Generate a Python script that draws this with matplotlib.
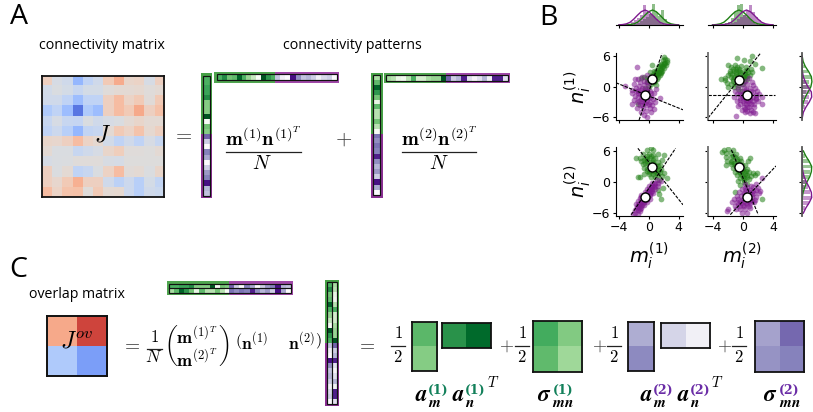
import matplotlib
matplotlib.use('Agg')
import matplotlib.pyplot as plt
from matplotlib.patches import Rectangle

W, H = 813, 412
plt.rcParams['font.family'] = ['Open Sans', 'DejaVu Sans']
plt.rcParams['mathtext.fontset'] = 'cm'

# ---------- data ----------
J_values = [
 [.15,-.05,-.1,-.45,-.2,-.1,.2,.4,.1,.12,-.05,.15],
 [-.08,-.03,-.07,-.15,-.07,-.07,.02,.05,.05,.07,.02,.05],
 [-.1,-.1,-.2,-.4,-.2,-.2,.15,.3,.12,.2,.03,.2],
 [-.3,-.2,-.4,-.8,-.3,-.4,.15,.3,.2,.42,.15,.27],
 [-.15,-.05,-.15,-.17,-.03,-.1,-.05,-.03,.05,.1,.05,.05],
 [-.2,-.12,-.25,-.45,-.18,-.15,.05,.2,.12,.25,.07,.15],
 [.1,.08,.15,.3,.12,.07,-.08,-.2,-.1,-.2,-.05,-.15],
 [.05,-.03,-.03,-.15,-.1,-.05,.1,.17,.02,.02,0,.05],
 [-.05,-.03,-.02,.02,.02,.02,-.04,-.06,0,0,0,0],
 [.15,-.02,.05,-.2,-.15,-.03,.13,.3,.03,.05,-.02,.1],
 [.15,.08,.2,.38,.15,.15,-.1,-.22,-.12,-.25,-.07,-.18],
 [.3,.12,.25,.27,.02,.2,.05,.07,-.12,-.25,-.1,-.13]]
J_overlap = [[.42, .85], [-.3, -.6]]

m1_g = [.6,.6,.65,.65,.75,.45,.45,.45,.95,.0,.5,.45]
m1_p = [.7,.3,.0,.6,.45,.0,.3,.5,.6,.95,.4,.35]
n1_g = [.6,.75,.5,.55,.9,.6,.4,.25,.0,.95,.7,.6]
n1_p = [.35,.1,.0,.95,.55,.35,.4,.3,.1,.25,.3,.0]
m2_g = [.35,.55,.9,.7,.5,.1,.55,.3,.3,.5,.3,.0]
m2_p = [.65,.55,.65,.6,.9,.55,.4,.5,.3,.95,.45,.0]
n2_g = [.35,.3,.1,.05,.3,.6,.2,.2,.35,.4,.4,.95]
n2_p = [.7,.3,.4,.9,.2,.05,.2,.4,.1,.9,.9,.2]

a1_m = [[.56], [.45]]
a1_n = [[.72, .88]]
sigma1 = [[.62, .46], [.55, .38]]
a2_m = [[.43], [.57]]
a2_n = [[.27, .1]]
sigma2 = [[.47, .68], [.53, .6]]

p1_green = [(2.0,5.8),(2.2,5.5),(1.9,5.2),(2.5,5.3),(2.4,4.9),(2.0,4.7),(1.7,4.5),(1.9,4.1),(2.3,4.2),(1.5,4.0),
 (1.3,3.8),(1.6,3.5),(1.1,3.4),(.4,4.3),(1.4,3.0),(1.0,3.0),(1.8,3.2),(.8,2.6),(1.2,2.5),(.5,2.3),(1.5,2.4),(.2,2.9),
 (.9,2.0),(.3,2.0),(.6,1.7),(1.1,1.5),(-.2,1.8),(-.6,1.9),(-1.0,1.8),(.2,1.2),(.7,1.0),(-.2,.9),(.3,.5),(1.0,.4),
 (0,0),(-.5,-.2),(-1.5,-3.4),(1.6,2.8),(1.3,2.0),(.7,3.2),(-.1,1.4),(2.1,3.7),(.9,1.2),(.5,.9),
 (1.8,3.8),(1.5,3.3),(1.2,2.9),(1.0,2.3),(.7,2.1),(1.4,2.7),(1.7,3.0),(.9,2.9),(.4,1.5),(.8,1.6),(2.0,4.4),(2.2,4.6),(1.6,4.2),(1.1,2.7)]
p1_purple = [(-1.6,3.9),(-.3,2.3),(-.9,2.0),(-1.4,1.6),(-1.9,1.5),(-.7,1.2),(-1.2,.9),(-.2,.9),(-2.0,.6),(-.7,.4),
 (-1.3,.2),(-.1,.3),(-3.2,.1),(-1.7,-.2),(-.9,-.3),(-.3,-.4),(-2.3,-.6),(-1.4,-.8),(-.7,-1.0),(.1,-.8),(-2.2,-1.2),
 (-1.2,-1.4),(-.1,-1.5),(.7,-1.2),(1.0,-.5),(-1.8,-1.8),(-.8,-1.9),(.3,-1.9),(-2.0,-2.5),(-1.1,-2.4),(-.3,-2.5),
 (.6,-2.3),(1.5,-2.1),(-1.6,-3.0),(-.7,-3.0),(.2,-3.0),(.9,-3.0),(-1.2,-3.6),(-.3,-3.6),(.5,-3.6),(-.8,-4.2),(.1,-4.2),
 (.7,-4.3),(-.4,-4.7),(.3,-4.9),(-1.1,-5.0),(-.6,-5.5),(-.3,-5.9),(-1.6,-4.2),(-2.2,-3.3),
 (-1.0,-.7),(-.5,-.6),(-1.5,-1.2),(-.9,-1.3),(-.4,-1.2),(.3,-1.2),(-1.4,-2.0),(-.5,-2.0),(-.9,-2.7),(-.1,-2.1),(-.5,-3.1),(-.9,-3.5),(.0,-3.4),(-1.3,-2.8),(-.2,-.9),(-1.7,-.9)]
p2_green = [(-.75,5.7),(1.25,6.1),(.1,5.2),(.9,5),(1.6,4.5),(2.5,3.7),(-1.9,4.2),(-1,4.3),(-2.9,1.5),(-2.4,1.3),(-2.1,.8),
 (-1.9,0),(-1.5,3.8),(-.7,3.9),(-.2,4.1),(.4,3.8),(1.1,3.6),(-1.7,3.2),(-1.1,3.2),(-.5,3.2),(.1,3.1),(.7,3.0),(1.2,2.9),
 (-1.4,2.6),(-.9,2.5),(-.3,2.6),(.3,2.4),(.9,2.3),(-2.0,2.3),(-1.6,1.9),(-1.1,1.9),(-.6,1.9),(0,1.8),(.5,1.6),(-2.3,1.8),
 (-1.3,1.2),(-.8,1.1),(-.3,1.2),(.2,1.1),(-1.6,.6),(-1.0,.5),(-.5,.4),(0,.6),(-1.2,-.1),(-.6,-.5),(-.1,-.9),
 (-1.3,3.5),(-.9,2.9),(-.4,2.9),(.3,2.8),(.6,3.4),(-.9,3.6),(.0,2.2),(-.7,2.2),(.6,2.1),(-1.3,1.6),(-.2,1.6),(.3,1.9),(-.5,3.6),(-1.7,2.7)]
p2_purple = [(-.9,-5.8),(.6,-4.8),(1.6,-5.2),(2.5,-2),(2.5,-3.4),(.8,1.7),(.3,1.2),(1.2,1.0),(-.1,.5),(.6,.5),(1.3,.4),
 (-.6,-.1),(.1,-.2),(.9,-.2),(1.6,-.3),(-1.0,-.8),(-.3,-.8),(.4,-.9),(1.1,-.9),(1.9,-.8),(-.8,-1.4),(-.1,-1.5),(1.0,-1.6),
 (1.7,-1.5),(2.2,-1.4),(-1.1,-2.0),(-.4,-2.1),(.3,-2.2),(1.0,-2.2),(1.8,-2.2),(-.7,-2.7),(0,-2.7),(.7,-2.8),(1.4,-2.8),
 (2.0,-2.8),(-.3,-3.3),(.4,-3.4),(1.1,-3.4),(-.6,-3.8),(.1,-3.9),(.8,-4.0),(1.5,-3.9),(-.1,-4.5),(.3,-4.4),(1.1,-4.6),
 (.9,-5.2),(.3,-5.0),(1.3,-4.9),
 (.4,-.4),(.7,-1.2),(.2,-1.2),(1.4,-1.1),(-.4,-1.4),(.6,-1.8),(1.3,-1.9),(.0,-2.0),(.4,-2.6),(1.0,-2.6),(.8,-3.2),(1.5,-3.3),(.1,-3.1),(.5,-3.9),(-.3,-2.5),(1.7,-2.4)]
p3_green = [(-1.15,.9),(-1.45,1),(1.2,5.5),(2,5.3),(-1.7,4.6),(2.4,.7),(1.9,-1.1),(1.2,-1.6),(1.4,-2.3),(1.6,-3.3),(.3,6.5),
 (-.3,6.2),(.6,6.1),(-.8,5.4),(.0,5.5),(.6,5.3),(-1.2,4.7),(-.5,4.7),(.2,4.6),(.9,4.6),(-1.0,4.0),(-.3,4.0),(.4,3.9),(1.2,3.9),
 (1.8,4.3),(-.8,3.4),(-.1,3.4),(.9,3.3),(1.5,3.2),(-.6,2.8),(1.0,2.7),(1.7,2.5),(-.3,2.2),(.3,2.2),(.9,2.1),(1.5,1.9),(2.1,1.7),
 (-.6,1.6),(.0,1.5),(.6,1.5),(1.2,1.4),(1.8,1.1),(.3,.9),(.9,.9),(1.4,.4),(1.1,1.8),(.2,2.7),
 (-.3,5.0),(.3,5.0),(-.7,4.3),(.6,4.3),(-.5,3.6),(.2,3.3),(1.2,3.0),(-.2,2.6),(.6,2.5),(.0,1.9),(.7,1.9),(1.4,2.3),(-.2,4.4),(.6,3.6)]
p3_purple = [(-2.1,-6.1),(-1.8,-5.9),(-1.5,-6.1),(-1.9,-5.4),(-1.5,-5.4),(-1.2,-5.6),(-1.6,-4.8),(-1.3,-4.9),(-1.0,-5.0),(-1.7,-4.2),
 (-1.3,-4.3),(-.9,-4.4),(-.6,-4.5),(-1.4,-3.7),(-1.0,-3.7),(-.6,-3.8),(-.3,-3.9),(-1.2,-3.1),(-.8,-3.1),(-.2,-3.2),(.1,-3.3),
 (-1.0,-2.5),(-.6,-2.5),(-.2,-2.5),(.2,-2.6),(-.5,-1.9),(-.1,-1.9),(.3,-2.0),(.6,-2.1),(-.3,-1.3),(.1,-1.3),(.5,-1.3),(.9,-1.4),
 (.0,-.7),(.4,-.7),(.8,-.7),(1.2,-.8),(.5,-.2),(.9,-.1),(1.3,-.1),(1.6,.2),(1.1,.3),
 (-1.6,-5.1),(-1.2,-5.2),(-1.5,-4.5),(-1.1,-4.6),(-.8,-4.0),(-1.2,-4.0),(-.4,-3.5),(-.8,-3.5),(-1.0,-2.9),(-.4,-2.8),(-.1,-2.8),(-.3,-2.2),(.1,-2.3),(.4,-1.7),(.0,-1.6),(.7,-1.0),(.3,-1.0),(.7,-.4)]
p4_green = [(-2.5,6.2),(-1.9,6.3),(-1.3,6.2),(-2.8,5.7),(-2.2,5.6),(-1.6,5.6),(-.9,5.5),(1,4.6),(.7,4),(-2.2,4.8),(-1.6,4.9),(-1.0,4.8),
 (-.4,4.7),(-2.1,4.1),(-1.4,4.1),(-.8,4.0),(-.2,4.0),(-2.2,3.3),(-1.6,3.4),(-1.0,3.3),(-.1,3.3),(.3,3.2),(-1.3,2.7),(-.8,2.6),(.0,2.6),
 (.5,2.5),(-1.0,2.0),(-.4,2.0),(.2,1.9),(.8,2.0),(1.3,1.7),(1.9,1.8),(-.7,1.4),(-.1,1.3),(.5,1.3),(1.1,1.2),(1.6,1.3),(-.4,.7),(.2,.7),
 (.8,.6),(-.6,.1),(.1,.0),(.6,-.3),(-1,-1.9),(2.5,-3.3),(-.3,-.6),
 (-1.3,5.1),(-.8,4.5),(-1.2,3.7),(-.5,3.6),(-.9,3.0),(-.3,2.9),(-.6,2.3),(-.1,2.3),(.4,2.2),(-.3,1.7),(.3,1.5),(.0,1.0),(.5,.9),(-1.6,3.9),(.2,.3)]
p4_purple = [(-2.1,-5.5),(-1.9,-5.3),(2.5,.8),(1.7,-.4),(1.1,-.7),(.3,-.3),(.6,-1.0),(1.4,-1.0),(2.0,-1.1),(-.1,-1.3),(.4,-1.5),(1.0,-1.5),(1.7,-1.6),
 (2.3,-1.7),(-.5,-1.9),(.1,-2.1),(.9,-2.1),(1.5,-2.2),(2.1,-2.2),(-.8,-2.7),(-.2,-2.7),(1.2,-2.8),(1.8,-2.8),(-1.2,-3.2),(-.6,-3.3),(.0,-3.3),
 (1.0,-3.4),(1.6,-3.4),(-1.4,-3.9),(-.8,-3.9),(-.2,-4.0),(.4,-4.0),(1.0,-4.0),(1.5,-3.9),(-1.0,-4.6),(-.4,-4.6),(.2,-4.6),(.8,-4.7),(-.9,-5.2),
 (-.3,-5.3),(.3,-5.3),(1.0,-5.1),(-.1,-5.9),(.5,-5.9),
 (.2,-2.4),(.7,-2.5),(1.2,-2.4),(.3,-3.0),(.9,-3.0),(-.3,-3.6),(.2,-3.6),(.7,-3.7),(1.2,-3.6),(-.6,-4.2),(.0,-4.4),(.6,-4.3),(.7,-1.8),(1.3,-1.8),(.3,-1.1)]

p1_green_center, p1_purple_center = (.5, 1.5), (-.45, -1.5)
p2_green_center, p2_purple_center = (-.55, 1.4), (.5, -1.5)
p3_green_center, p3_purple_center = (.45, 2.95), (-.5, -2.95)
p4_green_center, p4_purple_center = (-.53, 2.9), (.5, -2.95)

p1_lines = [((-1.3, 1.77), (-6.5, 6.5)), ((-4.4, 4.6), (.8, -4.5))]
p2_lines = [((-4.6, 2.35), (-6.1, 6.6)), ((-4.6, 4.3), (-1.55, -1.55))]
p3_lines = [((-1.46, 4.6), (6.5, -4.4)), ((-2.35, 3.6), (-6.3, 6.5))]
p4_lines = [((-1.5, 2.05), (6.2, -6.3)), ((-1.65, 4.4), (-6.3, 3.1))]

kde_x = [-4,-3.5,-3,-2.5,-2,-1.5,-1,-.5,0,.5,1,1.5,2,2.5,3,3.5,4]
kde_lo = [.005,.02,.05,.12,.26,.43,.58,.65,.58,.43,.26,.12,.05,.02,.005,0,0]
kde_hi = [0,0,.005,.02,.05,.12,.26,.43,.58,.65,.58,.43,.26,.12,.05,.02,.005]
hist_x = [-3,-2.6,-2.2,-1.8,-1.4,-1,-.6,-.2,.2,.6,1,1.4,1.8,2.2,2.6,3]
top1_purple = [.03,.06,.12,.22,.3,.45,.87,.55,.5,.38,.25,.12,.06,.02,0,0]
top1_green = [0,0,0,.03,.1,.18,.25,.35,.5,.9,.55,.4,.65,.25,.1,.03]
top2_green = [0,.03,.08,.15,.3,.55,.88,.9,.45,.35,.25,.12,.05,.02,0,0]
top2_purple = [0,0,0,.03,.08,.15,.25,.35,.45,.6,.85,.55,.35,.2,.1,.03]

kde_y1 = [-6,-5,-4,-3,-2,-1,0,1,2,3,4,5,6]
r1_green_kde = [0,.01,.04,.12,.3,.55,.8,.9,.85,.6,.3,.1,.02]
r1_purple_kde = [.03,.12,.35,.65,.88,.85,.55,.3,.12,.04,.01,0,0]
r2_green_kde = [0,0,0,.02,.1,.25,.45,.7,.85,.88,.65,.35,.12]
r2_purple_kde = [.12,.35,.65,.88,.85,.65,.4,.2,.08,.02,0,0,0]
r1_green_hist = [0,0,.08,.12,.15,.4,.7,.6,.8,.5,.3,.12,.04]
r1_purple_hist = [.08,.12,.3,.55,.6,.75,.5,.25,.08,.04,0,0,0]
r2_green_hist = [0,0,0,.04,.08,.15,.38,.6,.75,.8,.65,.3,.12]
r2_purple_hist = [.12,.3,.6,.8,.7,.55,.35,.2,.08,0,0,0,0]

GREEN = '#1f7f14'
PURPLE = '#7f1a8f'

# ---------- helpers ----------
fig = plt.figure(figsize=(W / 100, H / 100), dpi=100)

def axpx(x0, y0, x1, y1, **kw):
    return fig.add_axes([x0 / W, 1 - y1 / H, (x1 - x0) / W, (y1 - y0) / H], **kw)

bg = axpx(0, 0, W, H, zorder=0); bg.set_xlim(0, W); bg.set_ylim(H, 0); bg.axis('off')
fg = axpx(0, 0, W, H, zorder=5); fg.set_xlim(0, W); fg.set_ylim(H, 0); fg.axis('off'); fg.patch.set_alpha(0)

def T(x, y, s, fs=10, ha='center', va='center', **kw):
    return fg.text(x, y, s, fontsize=fs, ha=ha, va=va, **kw)

def rect(a, x0, y0, x1, y1, **kw):
    a.add_patch(Rectangle((x0, y0), x1 - x0, y1 - y0, **kw))

def heat(box, vals, cmap, vmin=0, vmax=1, edge=True, lw=1.2):
    ax = axpx(*box, zorder=2)
    ax.imshow(vals, cmap=cmap, vmin=vmin, vmax=vmax, aspect='auto', interpolation='nearest')
    ax.set_xticks([]); ax.set_yticks([])
    for s in ax.spines.values():
        s.set_visible(edge); s.set_linewidth(lw); s.set_color('#111111')
    return ax

def vstrip(outer, split, cols_g, cols_p, pad=2.3):
    x0, y0, x1, y1 = outer
    rect(bg, x0, y0, x1, split, fc='#45a045', ec='none')
    rect(bg, x0, split, x1, y1, fc='#8a2f92', ec='none')
    heat((x0 + pad, y0 + pad, x1 - pad, split), list(map(list, zip(*cols_g))), 'Greens', edge=False)
    heat((x0 + pad, split, x1 - pad, y1 - pad), list(map(list, zip(*cols_p))), 'Purples', edge=False)
    rect(fg, x0 + pad, y0 + pad, x1 - pad, y1 - pad, fc='none', ec='#111111', lw=.85)
    if len(cols_g) > 1:
        fg.plot([(x0 + x1) / 2] * 2, [y0 + pad, y1 - pad], color='#111111', lw=.85)

def hstrip(outer, split, rows_g, rows_p, pad=2.3):
    x0, y0, x1, y1 = outer
    rect(bg, x0, y0, split, y1, fc='#4fa54f', ec='none')
    rect(bg, split, y0, x1, y1, fc='#a048a8', ec='none')
    heat((x0 + pad, y0 + pad, split, y1 - pad), rows_g, 'Greens', edge=False)
    heat((split, y0 + pad, x1 - pad, y1 - pad), rows_p, 'Purples', edge=False)
    rect(fg, x0 + pad, y0 + pad, x1 - pad, y1 - pad, fc='none', ec='#111111', lw=.85)
    if len(rows_g) > 1:
        fg.plot([x0 + pad, x1 - pad], [(y0 + y1) / 2] * 2, color='#111111', lw=.85)

# ---------- panel A ----------
T(19, 24, 'A', 20.5, va='baseline'); T(548, 25, 'B', 20.5, va='baseline'); T(18, 277, 'C', 20.5, va='baseline')
T(102, 45, 'connectivity matrix', 10.3)
T(352, 45, 'connectivity patterns', 10.3)
T(77, 294, 'overlap matrix', 10.2)

heat((41.5, 75.5, 163.5, 197), J_values, 'coolwarm', -1, 1, lw=1.3)
T(102, 136, r'$J$', 17)
T(182, 135, r'$=$', 15, color='#444444')
vstrip((201, 73.3, 212, 198), 134, [m1_g], [m1_p])
hstrip((214.3, 72, 339, 82.7), 275, [n1_g], [n1_p])
vstrip((371, 73, 382.7, 197.7), 134, [m2_g], [m2_p])
hstrip((384, 72.7, 510, 83), 445.7, [n2_g], [n2_p])

for cx, k, xl in [(263, '1', (226, 301)), (439, '2', (402, 476))]:
    T(cx, 146, rf'$\mathbf{{m}}^{{(\mathbf{{{k}}})}}\mathbf{{n}}^{{(\mathbf{{{k}}})^{{T}}}}$', 14.5, va='baseline')
    fg.plot(xl, [152, 152], color='#222222', lw=0.9)
    T(cx - 1 if k == '1' else cx, 164, r'$N$', 14.5)
T(344, 139, r'$+$', 15, color='#444444')

# ---------- panel C ----------
heat((47.3, 315.7, 107.3, 375.7), J_overlap, 'coolwarm', -1, 1, lw=1.4)
T(77, 341, r'$J^{ov}$', 17)
T(131, 345, r'$=$', 14, color='#444444')
T(154, 338, r'$1$', 12); fg.plot([147, 162], [349, 349], color='#222222', lw=0.9); T(154, 358, r'$N$', 12.5)
T(197, 345, r'$\genfrac{(}{)}{0}{0}{\mathbf{m}^{(\mathbf{1})^{T}}}{\mathbf{m}^{(\mathbf{2})^{T}}}$', 13)
T(279, 343, r'$\left(\mathbf{n}^{(\mathbf{1})}\quad\ \mathbf{n}^{(\mathbf{2})}\right)$', 12.5)
T(366, 345, r'$=$', 14, color='#444444')

hstrip((166.7, 281.3, 293.3, 295.3), 229.3, [m1_g, m2_g], [m1_p, m2_p])
vstrip((325, 280, 339.3, 406), 342.7, [n1_g, n2_g], [n1_p, n2_p])

heat((411.7, 322.3, 437.3, 371), a1_m, 'Greens', lw=1.3)
heat((442.3, 323, 491, 348.3), a1_n, 'Greens', lw=1.3)
heat((532.7, 321.3, 582, 372.3), sigma1, 'Greens', lw=1.3)
heat((627.7, 321.7, 653.7, 370.7), a2_m, 'Purples', lw=1.3)
heat((660.7, 322.7, 710, 348.3), a2_n, 'Purples', lw=1.3)
heat((754.7, 321.3, 804, 372.3), sigma2, 'Purples', lw=1.3)

for xp, xh in [(None, 398), (507, 522), (600, 614), (725, 739)]:
    if xp:
        T(xp, 346, r'$+$', 13, color='#444444')
    T(xh, 334, r'$1$', 12)
    fg.plot([xh - 7, xh + 7], [346, 346], color='#222222', lw=0.9)
    T(xh, 358, r'$2$', 12)

CG = '#12805a'
CP = '#6a2ca6'
def lab(x, y, s, fs, color='black', **kw):
    T(x, y, s, fs, ha='left', va='baseline', color=color, **kw)
def big(x, s):
    lab(x, 401, rf'$\boldsymbol{{{s}}}$', 16.5)
def sub(x, s):
    lab(x, 407, rf'$\boldsymbol{{{s}}}$', 11)
def sup(x, s, c):
    lab(x, 393.5, f'({s})', 9, c, family='DejaVu Serif', fontweight='bold')
big(415, 'a'); sub(428, 'm'); sup(428, '1', CG)
big(452, 'a'); sub(465, 'n'); sup(465, '1', CG); lab(487, 387, r'$T$', 10.5)
big(537, r'\sigma'); sub(552, 'mn'); sup(553, '1', CG)
big(640, 'a'); sub(653, 'm'); sup(653, '2', CP)
big(677, 'a'); sub(690, 'n'); sup(690, '2', CP); lab(711, 387, r'$T$', 10.5)
big(763, r'\sigma'); sub(779, 'mn'); sup(779, '2', CP)

# ---------- panel B ----------
TICKFS = 9
def scatter_panel(box, green, purple, gc, pc, lines, xl, yl, xlabels, ylabels):
    ax = axpx(*box, zorder=3)
    ax.patch.set_alpha(0)
    gx, gy = zip(*green); px, py = zip(*purple)
    ax.scatter(gx, gy, s=17, color=GREEN, alpha=.55, lw=0)
    ax.scatter(px, py, s=17, color=PURPLE, alpha=.55, lw=0)
    for lx, ly in lines:
        ax.plot(lx, ly, color='black', lw=.8, ls=(0, (3, 1.2)))
    ax.scatter(*zip(gc, pc), s=42, color='white', edgecolor='black', lw=1, zorder=5)
    ax.set_xlim(xl); ax.set_ylim(yl)
    ax.set_xticks([-4, 0, 4]); ax.set_yticks([-6, 0, 6])
    ax.tick_params(length=2.5, width=.8, labelsize=TICKFS, pad=1.5)
    ax.tick_params(labelbottom=xlabels, labelleft=ylabels)
    for lab_ in ax.get_xticklabels() + ax.get_yticklabels():
        lab_.set_family('DejaVu Sans')
    ax.spines[['top', 'right']].set_visible(False)
    if not ylabels:
        ax.spines['left'].set_color('#777777'); ax.spines['left'].set_linewidth(1.4)
    return ax

XL1, XL2 = (-4.4, 4.6), (-4.6, 4.4)
YL = (-6.5, 6.7)
B1, B2 = (616, 683), (708, 776)
R1, R2 = (52.7, 120), (147.3, 215.7)
scatter_panel((B1[0], R1[0], B1[1], R1[1]), p1_green, p1_purple, p1_green_center, p1_purple_center, p1_lines, XL1, YL, False, True)
scatter_panel((B2[0], R1[0], B2[1], R1[1]), p2_green, p2_purple, p2_green_center, p2_purple_center, p2_lines, XL2, YL, False, False)
scatter_panel((B1[0], R2[0], B1[1], R2[1]), p3_green, p3_purple, p3_green_center, p3_purple_center, p3_lines, XL1, YL, True, True)
scatter_panel((B2[0], R2[0], B2[1], R2[1]), p4_green, p4_purple, p4_green_center, p4_purple_center, p4_lines, XL2, YL, True, False)

def top_marg(x0, x1, xl, hg, hp, kg, kp):
    ax = axpx(x0, 2, x1, 25, zorder=3); ax.patch.set_alpha(0)
    ax.bar(hist_x, hg, width=.4, color=GREEN, alpha=.5, lw=0)
    ax.bar(hist_x, hp, width=.4, color=PURPLE, alpha=.5, lw=0)
    ax.plot(kde_x, kg, color=GREEN, lw=1); ax.plot(kde_x, kp, color=PURPLE, lw=1)
    ax.set_xlim(xl); ax.set_ylim(0, 1)
    ax.set_xticks([-4, 0, 4]); ax.set_yticks([]); ax.set_xticklabels([])
    ax.tick_params(length=2.5, width=.8)
    ax.spines[['top', 'right', 'left']].set_visible(False)

top_marg(B1[0], B1[1], XL1, top1_green, top1_purple, kde_hi, kde_lo)
top_marg(B2[0], B2[1], XL2, top2_green, top2_purple, kde_lo, kde_hi)

def right_marg(y0, y1, hg, hp, kg, kp):
    ax = axpx(802, y0, 813, y1, zorder=3); ax.patch.set_alpha(0)
    ax.barh(kde_y1, hg, height=.75, color=GREEN, alpha=.45, lw=0)
    ax.barh(kde_y1, hp, height=.75, color=PURPLE, alpha=.45, lw=0)
    ax.plot(kg, kde_y1, color=GREEN, lw=1); ax.plot(kp, kde_y1, color=PURPLE, lw=1)
    ax.set_xlim(0, 1); ax.set_ylim(YL)
    ax.set_yticks([-6, 0, 6]); ax.set_xticks([]); ax.set_yticklabels([])
    ax.tick_params(length=2.5, width=.8)
    ax.spines[['top', 'right', 'bottom']].set_visible(False)
    ax.spines['left'].set_color('#555555'); ax.spines['left'].set_linewidth(1.3)

right_marg(R1[0], R1[1], r1_green_hist, r1_purple_hist, r1_green_kde, r1_purple_kde)
right_marg(R2[0], R2[1], r2_green_hist, r2_purple_hist, r2_green_kde, r2_purple_kde)

LFS = 14
T(578, 87, r'$n_i^{(1)}$', LFS, rotation=90, math_fontfamily='dejavusans')
T(578, 181, r'$n_i^{(2)}$', LFS, rotation=90, math_fontfamily='dejavusans')
T(649, 256, r'$m_i^{(1)}$', LFS, math_fontfamily='dejavusans')
T(742, 256, r'$m_i^{(2)}$', LFS, math_fontfamily='dejavusans')

fig.savefig('out.png', dpi=100)
